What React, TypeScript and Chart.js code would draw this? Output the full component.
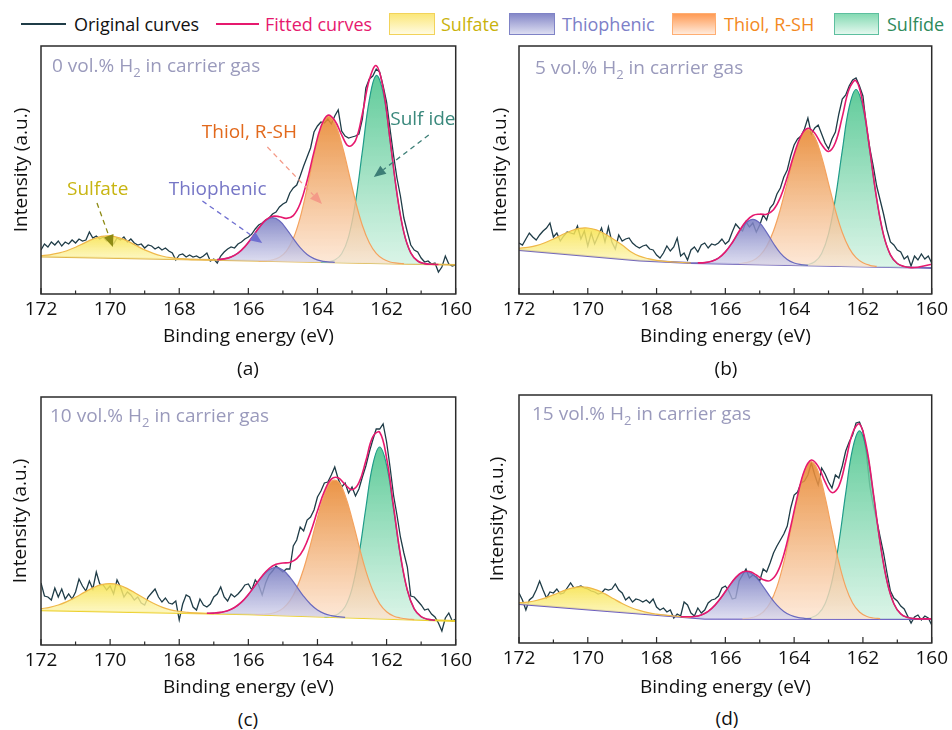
import React, { useEffect, useRef } from 'react';
import { Chart, registerables } from 'chart.js';

Chart.register(...registerables);

const FONT = '"Open Sans", "Noto Sans", "DejaVu Sans", sans-serif';
const FS = 19;
const LEGEND_FS = 18;
Chart.defaults.font.family = FONT;

// ---------- axes ----------
const X_MIN = 160;
const X_MAX = 172;
const Y_MAX = 248;
const MAJOR_TICKS = [172, 170, 168, 166, 164, 162, 160];
const MINOR_TICKS = [171, 169, 167, 165, 163, 161];
const PANEL_LETTERS = ['(a)', '(b)', '(c)', '(d)'];
const H2_PERCENT = ['0', '5', '10', '15'];

// ---------- raw spectra (0.1 eV) ----------
const ENERGY_FINE = [
  172.0, 171.9, 171.8, 171.7, 171.6, 171.5, 171.4, 171.3, 171.2, 171.1,
  171.0, 170.9, 170.8, 170.7, 170.6, 170.5, 170.4, 170.3, 170.2, 170.1,
  170.0, 169.9, 169.8, 169.7, 169.6, 169.5, 169.4, 169.3, 169.2, 169.1,
  169.0, 168.9, 168.8, 168.7, 168.6, 168.5, 168.4, 168.3, 168.2, 168.1,
  168.0, 167.9, 167.8, 167.7, 167.6, 167.5, 167.4, 167.3, 167.2, 167.1,
  167.0, 166.9, 166.8, 166.7, 166.6, 166.5, 166.4, 166.3, 166.2, 166.1,
  166.0, 165.9, 165.8, 165.7, 165.6, 165.5, 165.4, 165.3, 165.2, 165.1,
  165.0, 164.9, 164.8, 164.7, 164.6, 164.5, 164.4, 164.3, 164.2, 164.1,
  164.0, 163.9, 163.8, 163.7, 163.6, 163.5, 163.4, 163.3, 163.2, 163.1,
  163.0, 162.9, 162.8, 162.7, 162.6, 162.5, 162.4, 162.3, 162.2, 162.1,
  162.0, 161.9, 161.8, 161.7, 161.6, 161.5, 161.4, 161.3, 161.2, 161.1,
  161.0, 160.9, 160.8, 160.7, 160.6, 160.5, 160.4, 160.3, 160.2, 160.1,
  160.0,
];

const ORIGINAL_A = [
  44, 50, 47, 52, 49, 53, 48, 52, 50, 54,
  51, 55, 53, 54, 62, 56, 58, 55, 57, 53,
  55, 50, 56, 54, 57, 52, 55, 51, 49, 50,
  46, 49, 48, 45, 47, 44, 46, 43, 41, 34,
  39, 40, 37, 39, 37, 38, 36, 38, 41, 33,
  35, 31, 38, 42, 45, 47, 46, 50, 52, 55,
  57, 60, 65, 69, 71, 74, 76, 80, 82, 87,
  90, 92, 101, 106, 109, 118, 128, 137, 146, 162,
  168, 172, 171, 175, 170, 178, 184, 163, 158, 156,
  157, 158, 160, 175, 206, 215, 218, 225, 222, 208,
  192, 165, 139, 116, 98, 76, 62, 49, 44, 42,
  36, 32, 33, 30, 31, 22, 27, 38, 30, 28,
  29,
];
const ORIGINAL_B = [
  51, 49, 55, 61, 57, 54, 59, 63, 66, 71,
  57, 61, 53, 58, 62, 61, 60, 68, 55, 63,
  48, 61, 50, 58, 66, 52, 67, 52, 45, 59,
  53, 55, 56, 51, 48, 46, 48, 49, 45, 44,
  39, 36, 41, 48, 43, 47, 56, 38, 41, 34,
  44, 47, 42, 49, 51, 46, 50, 49, 51, 55,
  50, 53, 62, 70, 66, 63, 72, 67, 71, 62,
  69, 79, 74, 86, 90, 100, 106, 117, 124, 138,
  149, 155, 158, 165, 176, 160, 166, 169, 160, 151,
  145, 155, 162, 180, 195, 199, 208, 214, 216, 208,
  198, 168, 146, 128, 108, 94, 80, 64, 52, 49,
  44, 42, 35, 38, 28, 38, 34, 40, 35, 38,
  31,
];
const ORIGINAL_C = [
  62, 49, 48, 45, 57, 48, 56, 46, 51, 46,
  53, 66, 59, 54, 64, 56, 73, 61, 60, 55,
  59, 51, 65, 58, 48, 53, 50, 45, 48, 42,
  40, 48, 52, 56, 48, 43, 47, 42, 41, 44,
  25, 41, 50, 48, 38, 35, 46, 40, 38, 41,
  48, 51, 58, 48, 44, 51, 48, 51, 55, 60,
  61, 55, 65, 60, 50, 62, 70, 74, 79, 76,
  73, 76, 76, 99, 105, 118, 114, 125, 128, 135,
  148, 154, 162, 163, 170, 178, 166, 158, 162, 152,
  158, 149, 156, 168, 179, 193, 205, 216, 216, 221,
  203, 178, 150, 130, 108, 92, 78, 49, 48, 44,
  40, 35, 36, 31, 28, 22, 14, 27, 32, 24,
  26,
];
const ORIGINAL_D = [
  50, 43, 33, 43, 46, 53, 62, 53, 45, 51,
  50, 54, 49, 50, 55, 60, 55, 56, 57, 55,
  54, 52, 51, 49, 50, 54, 53, 54, 59, 53,
  50, 43, 46, 41, 44, 43, 41, 43, 40, 44,
  36, 33, 35, 31, 33, 25, 29, 27, 41, 38,
  30, 27, 35, 30, 33, 40, 43, 44, 47, 55,
  57, 52, 44, 45, 62, 68, 74, 65, 68, 66,
  62, 74, 71, 80, 90, 97, 103, 109, 117, 135,
  148, 151, 160, 162, 168, 180, 168, 158, 175, 169,
  161, 155, 168, 165, 177, 192, 201, 208, 220, 221,
  212, 190, 157, 138, 123, 106, 90, 70, 52, 45,
  42, 37, 34, 27, 20, 26, 28, 23, 27, 25,
  18,
];

// ---------- baselines ----------
const BASE_E_A = [172, 166, 160];
const BASE_A = [37.5, 33.3, 29.1];
const BASE_E_B = [172, 168.5, 167, 160.5, 160];
const BASE_B = [44, 33.5, 31, 26.3, 26];
const BASE_E_C = [172, 166, 160];
const BASE_C = [34.7, 30.6, 24];
const BASE_E_D = [172, 166.6, 160];
const BASE_D = [39, 24.2, 24];

// ---------- Sulfate component ----------
const SULFATE_E = [172, 171.75, 171.5, 171.25, 171, 170.75, 170.5, 170.25, 170, 169.75, 169.5, 169.25, 169, 168.75, 168.5, 168.25, 168, 167.75, 167.5, 167.25, 167];
const SULFATE_A = [38.3, 39.2, 40.8, 43.3, 46.8, 50.9, 54.9, 57.6, 58.1, 56.3, 53.1, 48.5, 44.1, 40.6, 38.0, 36.3, 35.3, 34.7, 34.4, 34.2, 34.0];
const SULFATE_B = [45.8, 46.6, 48.4, 51.3, 55.0, 59.3, 63.0, 65.6, 66.0, 64.1, 60.0, 54.8, 49.0, 42.3, 37.9, 35.4, 33.7, 32.6, 32.0, 31.5, 31.0];
const SULFATE_C = [36.3, 37.6, 40.0, 43.4, 47.7, 52.6, 57.1, 60.3, 61.3, 60.0, 56.4, 51.5, 46.4, 41.7, 37.9, 35.2, 33.6, 32.6, 31.9, 31.5, 31.3];
const SULFATE_D = [40.3, 40.9, 42.5, 44.9, 48.1, 51.6, 54.7, 56.2, 55.7, 53.1, 49.1, 44.2, 39.5, 35.5, 32.6, 30.4, 28.9, 27.8, 27.0, 26.2, 25.5];

// ---------- Thiophenic component ----------
const THIO_E_A = [166.9, 166.7, 166.5, 166.3, 166.1, 165.9, 165.7, 165.5, 165.3, 165.1, 164.9, 164.7, 164.5, 164.3, 164.1, 163.9, 163.7, 163.5];
const THIO_A = [34.4, 35.1, 37.1, 40.9, 47.4, 56.2, 65.8, 73.5, 76.3, 73.2, 65.2, 55.4, 46.3, 39.5, 35.4, 33.1, 32.2, 31.6];
const THIO_E_B = [166.8, 166.6, 166.4, 166.2, 166.0, 165.8, 165.6, 165.4, 165.2, 165.0, 164.8, 164.6, 164.4, 164.2, 164.0, 163.8, 163.6];
const THIO_B = [31.1, 31.4, 32.8, 35.9, 42.1, 51.3, 62.2, 71.2, 74.7, 71.0, 61.6, 50.5, 40.9, 34.5, 31.0, 29.4, 28.7];
const THIO_E_C = [167.2, 167.0, 166.8, 166.6, 166.4, 166.2, 166.0, 165.8, 165.6, 165.4, 165.2, 165.0, 164.8, 164.6, 164.4, 164.2, 164.0, 163.8, 163.6, 163.4, 163.2];
const THIO_C = [31.6, 31.9, 32.6, 34.2, 37.5, 42.8, 50.5, 59.7, 68.7, 75.3, 77.7, 74.9, 67.8, 58.4, 48.7, 40.7, 35.0, 31.4, 29.4, 28.3, 27.7];
const THIO_E_D = [167.3, 167.1, 166.9, 166.7, 166.5, 166.3, 166.1, 165.9, 165.7, 165.5, 165.3, 165.1, 164.9, 164.7, 164.5, 164.3, 164.1, 163.9, 163.7, 163.5];
const THIO_D = [26.3, 26.2, 26.5, 28.1, 31.6, 37.9, 46.5, 56.4, 65.3, 70.6, 70.6, 65.3, 56.4, 46.5, 37.9, 31.6, 27.7, 25.6, 24.7, 24.3];

// ---------- Thiol, R-SH component ----------
const THIOL_E_A = [165.7, 165.5, 165.3, 165.1, 164.9, 164.7, 164.5, 164.3, 164.1, 163.9, 163.7, 163.5, 163.3, 163.1, 162.9, 162.7, 162.5, 162.3, 162.1, 161.9, 161.7, 161.5];
const THIOL_A = [33.2, 33.4, 34.2, 36.8, 42.9, 55.4, 76.4, 105.9, 138.7, 165.8, 177.7, 171.1, 150.4, 122.0, 92.8, 68.5, 51.2, 40.6, 34.9, 32.0, 30.9, 30.3];
const THIOL_E_B = [165.6, 165.4, 165.2, 165.0, 164.8, 164.6, 164.4, 164.2, 164.0, 163.8, 163.6, 163.4, 163.2, 163.0, 162.8, 162.6, 162.4, 162.2, 162.0, 161.8, 161.6];
const THIOL_B = [30.5, 31.3, 33.5, 38.4, 47.6, 63.0, 84.8, 111.3, 137.6, 157.3, 164.5, 157.0, 137.1, 110.4, 83.7, 61.5, 45.9, 36.3, 31.2, 28.7, 27.6];
const THIOL_E_C = [165.8, 165.6, 165.4, 165.2, 165.0, 164.8, 164.6, 164.4, 164.2, 164.0, 163.8, 163.6, 163.4, 163.2, 163.0, 162.8, 162.6, 162.4, 162.2, 162.0, 161.8, 161.6, 161.4, 161.2];
const THIOL_C = [30.5, 30.6, 31.1, 32.7, 36.6, 44.1, 57.0, 76.0, 100.7, 127.3, 150.3, 163.7, 163.4, 149.6, 126.2, 99.2, 74.1, 54.5, 41.2, 33.3, 29.0, 27.0, 25.9, 25.4];
const THIOL_E_D = [165.5, 165.3, 165.1, 164.9, 164.7, 164.5, 164.3, 164.1, 163.9, 163.7, 163.5, 163.3, 163.1, 162.9, 162.7, 162.5, 162.3, 162.1, 161.9, 161.7, 161.5];
const THIOL_D = [24.4, 25.0, 26.8, 31.0, 40.0, 56.1, 80.8, 112.8, 145.9, 171.6, 181.3, 171.6, 145.9, 112.8, 80.8, 56.1, 40.0, 31.0, 26.8, 25.0, 24.4];

// ---------- Sulfide component ----------
const SULF_E_A = [163.9, 163.7, 163.5, 163.3, 163.1, 162.9, 162.7, 162.5, 162.3, 162.1, 161.9, 161.7, 161.5, 161.3, 161.1, 160.9, 160.7];
const SULF_A = [31.9, 32.2, 33.9, 40.2, 57.2, 91.7, 142.8, 193.9, 218.5, 201.5, 153.2, 100.1, 61.5, 41.1, 33.0, 30.4, 29.7];
const SULF_E_B = [163.8, 163.6, 163.4, 163.2, 163.0, 162.8, 162.6, 162.4, 162.2, 162.0, 161.8, 161.6, 161.4, 161.2, 161.0, 160.8, 160.6];
const SULF_B = [28.9, 29.5, 32.2, 40.6, 60.2, 95.8, 143.4, 186.8, 204.5, 186.5, 142.8, 94.9, 59.1, 39.1, 30.5, 27.5, 26.6];
const SULF_E_C = [163.8, 163.6, 163.4, 163.2, 163.0, 162.8, 162.6, 162.4, 162.2, 162.0, 161.8, 161.6, 161.4, 161.2, 161.0, 160.8, 160.6];
const SULF_C = [28.3, 28.8, 30.9, 38.2, 56.4, 90.3, 137.0, 180.2, 198.0, 179.8, 136.1, 89.0, 54.6, 36.0, 28.3, 25.7, 24.8];
const SULF_E_D = [163.7, 163.5, 163.3, 163.1, 162.9, 162.7, 162.5, 162.3, 162.1, 161.9, 161.7, 161.5, 161.3, 161.1, 160.9, 160.7, 160.5, 160.3];
const SULF_D = [24.4, 25.5, 29.1, 39.3, 61.7, 100.1, 149.8, 194.1, 212.1, 194.1, 149.8, 100.1, 61.7, 39.3, 29.1, 25.5, 24.4, 24.1];

// ---------- Fitted envelopes ----------
const FIT_E_A = [166.9, 166.7, 166.5, 166.3, 166.1, 165.9, 165.7, 165.5, 165.3, 165.1, 164.9, 164.7, 164.5, 164.3, 164.1, 163.9, 163.7, 163.5, 163.3, 163.1, 162.9, 162.7, 162.5, 162.3, 162.1, 161.9, 161.7, 161.5, 161.3, 161.1, 160.9, 160.7, 160.5];
const FIT_A = [34.4, 35.1, 37.1, 40.9, 47.4, 56.2, 65.9, 73.9, 77.7, 77.3, 75.6, 78.4, 90.5, 113.3, 142.1, 167.2, 178.7, 173.5, 159.2, 147.9, 153.4, 180.3, 214.2, 228.4, 205.8, 154.8, 100.7, 61.6, 41.1, 33.0, 30.4, 29.7, 29.45];
const FIT_E_B = [166.8, 166.6, 166.4, 166.2, 166.0, 165.8, 165.6, 165.4, 165.2, 165.0, 164.8, 164.6, 164.4, 164.2, 164.0, 163.8, 163.6, 163.4, 163.2, 163.0, 162.8, 162.6, 162.4, 162.2, 162.0, 161.8, 161.6, 161.4, 161.2, 161.0, 160.8, 160.6, 160.4, 160.2, 160.0];
const FIT_B = [31.1, 31.4, 32.8, 35.9, 42.1, 51.3, 62.7, 72.7, 78.5, 79.8, 79.8, 84.2, 96.6, 116.8, 139.8, 158.2, 165.7, 160.8, 149.4, 142.5, 151.5, 177.1, 205.0, 213.3, 190.3, 144.3, 95.4, 59.1, 39.1, 30.5, 27.5, 26.4, 26.8, 28.2, 29.7];
const FIT_E_C = [167.2, 167.0, 166.8, 166.6, 166.4, 166.2, 166.0, 165.8, 165.6, 165.4, 165.2, 165.0, 164.8, 164.6, 164.4, 164.2, 164.0, 163.8, 163.6, 163.4, 163.2, 163.0, 162.8, 162.6, 162.4, 162.2, 162.0, 161.8, 161.6, 161.4, 161.2, 161.0, 160.8, 160.6];
const FIT_C = [31.7, 31.9, 32.6, 34.2, 37.5, 42.8, 50.5, 59.8, 69.1, 76.5, 80.7, 82.0, 82.6, 86.3, 95.9, 112.8, 133.9, 153.6, 165.9, 167.2, 160.5, 155.3, 162.4, 184.2, 208.1, 212.8, 186.9, 139.1, 90.2, 55.0, 36.1, 28.3, 25.7, 24.8];
const FIT_E_D = [167.3, 167.1, 166.9, 166.7, 166.5, 166.3, 166.1, 165.9, 165.7, 165.5, 165.3, 165.1, 164.9, 164.7, 164.5, 164.3, 164.1, 163.9, 163.7, 163.5, 163.3, 163.1, 162.9, 162.7, 162.5, 162.3, 162.1, 161.9, 161.7, 161.5, 161.3, 161.1, 160.9, 160.7, 160.5, 160.3, 160.1, 160.0];
const FIT_D = [26.3, 26.2, 26.5, 28.1, 31.6, 37.9, 46.5, 56.4, 65.4, 70.9, 71.5, 68.0, 63.3, 62.4, 69.9, 88.3, 116.4, 147.4, 172.5, 182.9, 176.6, 161.1, 150.4, 156.8, 181.8, 210.0, 219.0, 196.8, 150.7, 100.4, 61.7, 39.3, 29.1, 25.5, 24.4, 24.1, 24.1, 24.1];

// ---------- annotations of panel (a): [energy, intensity] ----------
const ANNOTATIONS_A = [
  { text: 'Sulfate', color: '#c8b512', arrow: '#8d8a14', at: [170.36, 104], from: [170.38, 91], to: [169.92, 47] },
  { text: 'Thiophenic', color: '#7676c6', arrow: '#6f6fd0', at: [166.89, 104], from: [167.33, 93], to: [165.6, 51] },
  { text: 'Thiol, R-SH', color: '#e2691c', arrow: '#f49a88', at: [165.97, 161], from: [165.45, 147], to: [163.87, 90] },
  { text: 'Sulf ide', color: '#3a887c', arrow: '#3c7e76', at: [160.95, 174], from: [160.78, 159], to: [162.37, 117] },
];

// ---------- styles ----------
const STYLE = {
  original: '#1f3c47',
  fitted: '#e6196e',
  sulfate: { line: '#efb84a', top: 'rgba(247,226,72,0.85)', bottom: 'rgba(253,247,190,0.8)' },
  thio: { line: '#6a6abf', top: 'rgba(116,120,192,0.85)', bottom: 'rgba(216,216,238,0.8)' },
  thiol: { line: '#f4a35f', top: 'rgba(232,134,46,0.88)', bottom: 'rgba(253,228,208,0.8)' },
  sulfide: { line: '#1f9c89', top: 'rgba(74,196,140,0.88)', bottom: 'rgba(210,242,226,0.8)' },
};
const BASE_COLORS = ['#e0b64c', '#7469bb', '#ecd02e', '#6c5ec0'];

const LAYOUTS = [
  { x: 0, y: 40, w: 476, h: 316, pad: { left: 0, top: 6, right: 19, bottom: 8 }, yW: 41, yTitlePad: 10, xH: 54, cond: [11, 21], letter: [248, 368] },
  { x: 476, y: 40, w: 476, h: 316, pad: { left: 0, top: 6, right: 17, bottom: 8 }, yW: 43, yTitlePad: 13, xH: 54, cond: [16, 23], letter: [726, 368] },
  { x: 0, y: 390, w: 476, h: 310, pad: { left: 0, top: 7, right: 19, bottom: 1 }, yW: 41, yTitlePad: 9, xH: 54, cond: [9, 20], letter: [248, 719] },
  { x: 476, y: 390, w: 476, h: 312, pad: { left: 0, top: 5, right: 17, bottom: 3 }, yW: 43, yTitlePad: 10, xH: 56, cond: [13, 20], letter: [727, 718] },
];

const PANELS = [
  { original: ORIGINAL_A, base: [BASE_E_A, BASE_A], sulfate: [SULFATE_E, SULFATE_A], thio: [THIO_E_A, THIO_A], thiol: [THIOL_E_A, THIOL_A], sulfide: [SULF_E_A, SULF_A], fit: [FIT_E_A, FIT_A], notes: ANNOTATIONS_A },
  { original: ORIGINAL_B, base: [BASE_E_B, BASE_B], sulfate: [SULFATE_E, SULFATE_B], thio: [THIO_E_B, THIO_B], thiol: [THIOL_E_B, THIOL_B], sulfide: [SULF_E_B, SULF_B], fit: [FIT_E_B, FIT_B], notes: [] },
  { original: ORIGINAL_C, base: [BASE_E_C, BASE_C], sulfate: [SULFATE_E, SULFATE_C], thio: [THIO_E_C, THIO_C], thiol: [THIOL_E_C, THIOL_C], sulfide: [SULF_E_C, SULF_C], fit: [FIT_E_C, FIT_C], notes: [] },
  { original: ORIGINAL_D, base: [BASE_E_D, BASE_D], sulfate: [SULFATE_E, SULFATE_D], thio: [THIO_E_D, THIO_D], thiol: [THIOL_E_D, THIOL_D], sulfide: [SULF_E_D, SULF_D], fit: [FIT_E_D, FIT_D], notes: [] },
];

const LEGEND_ITEMS = [
  { kind: 'line', label: 'Original curves', color: '#1f3c47', text: '#111111', x: 21, w: 45, tx: 74 },
  { kind: 'line', label: 'Fitted curves', color: '#e6196e', text: '#e6196e', x: 216, w: 43, tx: 265 },
  { kind: 'box', label: 'Sulfate', color: '#f2d35a', top: '#fbe77a', bottom: '#fffbe2', text: '#c9b20c', x: 389, w: 46, tx: 441 },
  { kind: 'box', label: 'Thiophenic', color: '#7f83c6', top: '#8588c8', bottom: '#dddef1', text: '#7d80c8', x: 509, w: 46, tx: 562 },
  { kind: 'box', label: 'Thiol, R-SH', color: '#ffae72', top: '#ff9b55', bottom: '#ffeadb', text: '#f3891f', x: 672, w: 44, tx: 724 },
  { kind: 'box', label: 'Sulfide', color: '#5dbf9f', top: '#85dab3', bottom: '#e3f8ee', text: '#2e8a5a', x: 834, w: 45, tx: 887 },
];

const toPoints = (es: number[], vs: number[]) => es.map((e, i) => ({ x: e, y: vs[i] }));

const gradientFill = (top: string, bottom: string, vals: number[]) => (ctx: any) => {
  const chart = ctx.chart;
  if (!chart.chartArea) return top;
  const ys = chart.scales.y;
  const y0 = ys.getPixelForValue(Math.max(...vals));
  const y1 = ys.getPixelForValue(Math.min(...vals));
  const g = chart.ctx.createLinearGradient(0, y0, 0, y1 + 1);
  g.addColorStop(0, top);
  g.addColorStop(1, bottom);
  return g;
};

function drawArrow(ctx: CanvasRenderingContext2D, x1: number, y1: number, x2: number, y2: number, color: string) {
  const ang = Math.atan2(y2 - y1, x2 - x1);
  const head = 12;
  const half = 5;
  const bx = x2 - head * Math.cos(ang);
  const by = y2 - head * Math.sin(ang);
  ctx.save();
  ctx.strokeStyle = color;
  ctx.lineWidth = 1.3;
  ctx.setLineDash([5, 4]);
  ctx.beginPath();
  ctx.moveTo(x1, y1);
  ctx.lineTo(bx, by);
  ctx.stroke();
  ctx.setLineDash([]);
  ctx.fillStyle = color;
  ctx.beginPath();
  ctx.moveTo(x2, y2);
  ctx.lineTo(bx + half * Math.sin(ang), by - half * Math.cos(ang));
  ctx.lineTo(bx - half * Math.sin(ang), by + half * Math.cos(ang));
  ctx.closePath();
  ctx.fill();
  ctx.restore();
}

function makeDecor(idx: number) {
  const panel = PANELS[idx];
  const lay = LAYOUTS[idx];
  return {
    id: 'decor' + idx,
    afterDatasetsDraw(chart: any) {
      const { ctx, chartArea: a } = chart;
      const xs = chart.scales.x;
      const ys = chart.scales.y;
      ctx.save();
      ctx.textBaseline = 'middle';
      ctx.textAlign = 'left';
      ctx.fillStyle = '#9a9abc';
      let x = a.left + lay.cond[0];
      const y = a.top + lay.cond[1];
      ctx.font = `${FS}px ${FONT}`;
      const first = `${H2_PERCENT[idx]} vol.% H`;
      ctx.fillText(first, x, y);
      x += ctx.measureText(first).width;
      ctx.font = `13px ${FONT}`;
      ctx.fillText('2', x, y + 6);
      x += ctx.measureText('2').width;
      ctx.font = `${FS}px ${FONT}`;
      ctx.fillText(' in carrier gas', x, y);
      for (const n of panel.notes) {
        drawArrow(ctx, xs.getPixelForValue(n.from[0]), ys.getPixelForValue(n.from[1]), xs.getPixelForValue(n.to[0]), ys.getPixelForValue(n.to[1]), n.arrow);
        ctx.font = `${FS}px ${FONT}`;
        ctx.fillStyle = n.color;
        ctx.textAlign = 'center';
        ctx.fillText(n.text, xs.getPixelForValue(n.at[0]), ys.getPixelForValue(n.at[1]));
      }
      ctx.restore();
    },
    afterDraw(chart: any) {
      const { ctx, chartArea: a } = chart;
      const xs = chart.scales.x;
      ctx.save();
      ctx.strokeStyle = '#2b2b2b';
      ctx.lineWidth = 1.2;
      ctx.beginPath();
      for (const v of MAJOR_TICKS) {
        const px = xs.getPixelForValue(v);
        ctx.moveTo(px, a.bottom);
        ctx.lineTo(px, a.bottom - 6);
      }
      for (const v of MINOR_TICKS) {
        const px = xs.getPixelForValue(v);
        ctx.moveTo(px, a.bottom);
        ctx.lineTo(px, a.bottom - 3.5);
      }
      ctx.stroke();
      ctx.lineWidth = 1.5;
      ctx.strokeRect(a.left, a.top, a.right - a.left, a.bottom - a.top);
      ctx.restore();
    },
  };
}

function buildConfig(idx: number): any {
  const p = PANELS[idx];
  const lay = LAYOUTS[idx];
  const comp = (label: string, data: any[], st: any, order: number) => ({
    label,
    data: toPoints(data[0], data[1]),
    borderColor: st.line,
    borderWidth: 1.2,
    backgroundColor: gradientFill(st.top, st.bottom, data[1]),
    fill: 0,
    tension: 0.4,
    pointRadius: 0,
    order,
  });
  return {
    type: 'line',
    data: {
      datasets: [
        { label: 'Baseline', data: toPoints(p.base[0], p.base[1]), borderColor: BASE_COLORS[idx], borderWidth: 1.8, fill: false, pointRadius: 0, tension: 0, order: 5 },
        comp('Sulfate', p.sulfate, STYLE.sulfate, 1),
        comp('Thiophenic', p.thio, STYLE.thio, 2),
        comp('Thiol, R-SH', p.thiol, STYLE.thiol, 3),
        comp('Sulfide', p.sulfide, STYLE.sulfide, 4),
        { label: 'Original curves', data: toPoints(ENERGY_FINE, p.original), borderColor: STYLE.original, borderWidth: 1.3, fill: false, pointRadius: 0, tension: 0, order: 6 },
        { label: 'Fitted curves', data: toPoints(p.fit[0], p.fit[1]), borderColor: STYLE.fitted, borderWidth: 1.6, fill: false, pointRadius: 0, tension: 0.4, order: 0 },
      ],
    },
    options: {
      animation: false,
      responsive: false,
      devicePixelRatio: 1,
      layout: { padding: lay.pad },
      plugins: { legend: { display: false }, tooltip: { enabled: false }, title: { display: false } },
      elements: { point: { radius: 0 } },
      scales: {
        x: {
          type: 'linear',
          min: X_MIN,
          max: X_MAX,
          reverse: true,
          grid: { display: false, drawTicks: false },
          border: { display: false },
          ticks: { stepSize: 2, autoSkip: false, maxRotation: 0, padding: 4, color: '#111', font: { size: FS, family: FONT } },
          title: { display: true, text: 'Binding energy (eV)', color: '#111', font: { size: FS, family: FONT }, padding: { top: 0, bottom: 0 } },
          afterFit: (s: any) => { s.height = lay.xH; },
        },
        y: {
          type: 'linear',
          min: 0,
          max: Y_MAX,
          grid: { display: false, drawTicks: false },
          border: { display: false },
          ticks: { display: false },
          title: { display: true, text: 'Intensity (a.u.)', color: '#111', font: { size: FS, family: FONT }, padding: { top: lay.yTitlePad, bottom: 0 } },
          afterFit: (s: any) => { s.width = lay.yW; },
        },
      },
    },
    plugins: [makeDecor(idx)],
  };
}

function Panel({ idx }: { idx: number }) {
  const ref = useRef<HTMLCanvasElement>(null);
  const lay = LAYOUTS[idx];
  useEffect(() => {
    const chart = new Chart(ref.current as HTMLCanvasElement, buildConfig(idx));
    return () => chart.destroy();
  }, [idx]);
  return (
    <canvas
      ref={ref}
      width={lay.w}
      height={lay.h}
      style={{ position: 'absolute', left: lay.x, top: lay.y, width: lay.w, height: lay.h }}
    />
  );
}

function Legend() {
  return (
    <div style={{ position: 'absolute', left: 0, top: 0, width: 952, height: 44 }}>
      {LEGEND_ITEMS.map((it) => (
        <React.Fragment key={it.label}>
          {it.kind === 'line' ? (
            <div style={{ position: 'absolute', left: it.x, top: 23, width: it.w, height: 0, borderTop: `2px solid ${it.color}` }} />
          ) : (
            <div
              style={{
                position: 'absolute',
                left: it.x,
                top: 13,
                width: it.w,
                height: 22,
                boxSizing: 'border-box',
                border: `1.5px solid ${it.color}`,
                background: `linear-gradient(${(it as any).top}, ${(it as any).bottom})`,
              }}
            />
          )}
          <div style={{ position: 'absolute', left: it.tx, top: 12, height: 24, lineHeight: '24px', fontSize: LEGEND_FS, color: it.text, whiteSpace: 'nowrap' }}>
            {it.label}
          </div>
        </React.Fragment>
      ))}
    </div>
  );
}

export default function App() {
  return (
    <div style={{ position: 'absolute', left: 0, top: 0, width: 952, height: 730, background: '#ffffff', fontFamily: FONT, overflow: 'hidden' }}>
      <Legend />
      {PANELS.map((_, i) => (
        <Panel key={i} idx={i} />
      ))}
      {LAYOUTS.map((lay, i) => (
        <div
          key={PANEL_LETTERS[i]}
          style={{ position: 'absolute', left: lay.letter[0] - 30, top: lay.letter[1] - 12, width: 60, height: 24, lineHeight: '24px', textAlign: 'center', fontSize: FS, color: '#111' }}
        >
          {PANEL_LETTERS[i]}
        </div>
      ))}
    </div>
  );
}
